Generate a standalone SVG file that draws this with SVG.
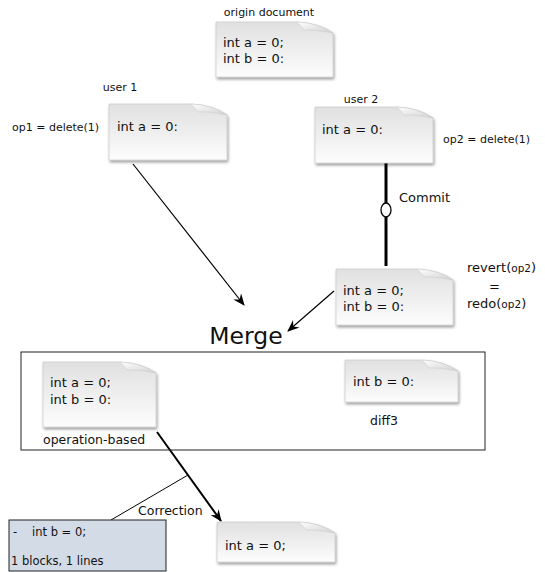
<svg xmlns="http://www.w3.org/2000/svg" width="545" height="572" viewBox="0 0 545 572">
<style>
text{font-family:"DejaVu Sans","Noto Sans",sans-serif;fill:#111}
.lbl{font-size:11px}
.op{font-size:11px}
.code{font-size:13px}
.mid{font-size:12.5px}
.body{fill:url(#paper);stroke:#c4c4c4;stroke-width:0.6}
.flap{fill:url(#flapg);stroke:#c8c8c8;stroke-width:0.5}
.note{filter:url(#sh)}
.con{stroke:#000;fill:none}
</style>
<defs>
<linearGradient id="paper" x1="0" y1="0" x2="0" y2="1">
<stop offset="0" stop-color="#e0e0e0"/>
<stop offset="1" stop-color="#fdfdfd"/>
</linearGradient>
<linearGradient id="flapg" x1="0" y1="0" x2="1" y2="1">
<stop offset="0" stop-color="#ffffff"/>
<stop offset="1" stop-color="#d0d0d0"/>
</linearGradient>
<filter id="sh" x="-10%" y="-10%" width="130%" height="140%">
<feDropShadow dx="1" dy="2" stdDeviation="1.5" flood-color="#000" flood-opacity="0.4"/>
</filter>
<marker id="arr" viewBox="0 0 12 10" refX="11" refY="5" markerWidth="12" markerHeight="10" orient="auto" markerUnits="userSpaceOnUse">
<path d="M0,0 L12,5 L0,10 L4,5 Z" fill="#000"/>
</marker>
</defs>

<g id="connectors">
<line class="con" x1="133" y1="164" x2="244" y2="305" stroke-width="1.2" marker-end="url(#arr)"/>
<line class="con" x1="386" y1="163" x2="386" y2="203" stroke-width="3"/>
<line class="con" x1="386" y1="217" x2="386" y2="266" stroke-width="3"/>
<ellipse cx="386" cy="210" rx="5" ry="7" fill="#fff" stroke="#000" stroke-width="1.3"/>
<text x="399" y="202" class="code">Commit</text>
<line class="con" x1="334" y1="291" x2="288" y2="331" stroke-width="1.2" marker-end="url(#arr)"/>
<line class="con" x1="157" y1="432" x2="221" y2="521" stroke-width="2" marker-end="url(#arr)"/>
<line class="con" x1="111" y1="520" x2="188" y2="475" stroke-width="1"/>
<text x="138" y="515" class="mid">Correction</text>
</g>

<g id="origin">
<text x="269" y="16" class="lbl" text-anchor="middle">origin document</text>
<g class="note">
<path class="body" d="M216,22 H297 Q319,23 333,33 V77 H216 Z"/>
<path class="flap" d="M297,22 Q319,23 333,33 Q311,29 304,30 Q301,26 297,22 Z"/>
</g>
<text x="223" y="47" class="code">int a = 0;</text>
<text x="223" y="63" class="code">int b = 0:</text>
</g>

<g id="user1">
<text x="120" y="91" class="lbl" text-anchor="middle">user 1</text>
<text x="12" y="131" class="op">op1 = delete(1)</text>
<g class="note">
<path class="body" d="M109,104 H191 Q213,105 227,115 V160 H109 Z"/>
<path class="flap" d="M191,104 Q213,105 227,115 Q205,111 198,112 Q195,108 191,104 Z"/>
</g>
<text x="117" y="131" class="code">int a = 0:</text>
</g>

<g id="user2">
<text x="361" y="103" class="lbl" text-anchor="middle">user 2</text>
<g class="note">
<path class="body" d="M315,107 H397 Q419,108 433,118 V163 H315 Z"/>
<path class="flap" d="M397,107 Q419,108 433,118 Q411,114 404,115 Q401,111 397,107 Z"/>
</g>
<text x="322" y="134" class="code">int a = 0:</text>
<text x="443" y="143" class="op">op2 = delete(1)</text>
</g>

<g id="reverted">
<g class="note">
<path class="body" d="M336,269 H417 Q439,270 453,280 V325 H336 Z"/>
<path class="flap" d="M417,269 Q439,270 453,280 Q431,276 424,277 Q421,273 417,269 Z"/>
</g>
<text x="343" y="295" class="code">int a = 0;</text>
<text x="343" y="311" class="code">int b = 0:</text>
<text x="467" y="272" class="code">revert(<tspan font-size="10.5px">op2</tspan>)</text>
<text x="489" y="291" class="code">=</text>
<text x="467" y="308" class="code">redo(<tspan font-size="10.5px">op2</tspan>)</text>
</g>

<g id="merge">
<text x="246" y="344" font-size="23.5px" text-anchor="middle">Merge</text>
<rect x="21" y="352" width="464" height="98" fill="none" stroke="#222" stroke-width="1"/>
</g>

<g id="opbased">
<g class="note">
<path class="body" d="M43,362 H120 Q142,363 156,373 V427 H43 Z"/>
<path class="flap" d="M120,362 Q142,363 156,373 Q134,369 127,370 Q124,366 120,362 Z"/>
</g>
<text x="50" y="387" class="code">int a = 0;</text>
<text x="50" y="404" class="code">int b = 0:</text>
<text x="43" y="444" class="mid">operation-based</text>
</g>

<g id="diff3">
<g class="note">
<path class="body" d="M345,360 H422 Q444,361 458,371 V402 H345 Z"/>
<path class="flap" d="M422,360 Q444,361 458,371 Q436,367 429,368 Q426,364 422,360 Z"/>
</g>
<text x="353" y="386" class="code">int b = 0:</text>
<text x="384" y="425" class="mid" text-anchor="middle">diff3</text>
</g>

<g id="diffbox">
<rect x="9" y="520" width="157" height="51" fill="#d3dbe7" stroke="#222" stroke-width="1"/>
<text x="13" y="536" font-size="11.5px">-</text>
<text x="32" y="536" font-size="11.5px">int b = 0;</text>
<text x="11" y="565" font-size="11.5px">1 blocks, 1 lines</text>
</g>

<g id="result">
<g class="note">
<path class="body" d="M217,522 H299 Q321,523 335,533 V562 H217 Z"/>
<path class="flap" d="M299,522 Q321,523 335,533 Q313,529 306,530 Q303,526 299,522 Z"/>
</g>
<text x="225" y="550" class="code">int a = 0;</text>
</g>
</svg>
